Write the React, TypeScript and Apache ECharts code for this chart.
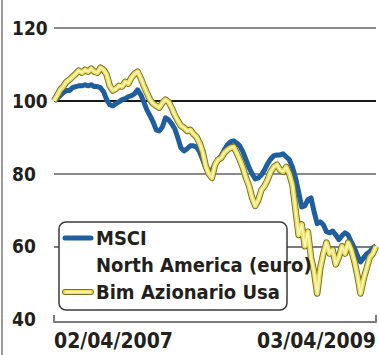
import React, { useEffect, useRef } from "react";
import * as echarts from "echarts";

const seriesNames = ["MSCI North America (euro)", "Bim Azionario Usa"];
const legendLines = ["MSCI", "North America (euro)", "Bim Azionario Usa"];
const tickLabels = ["02/04/2007", "03/04/2009"];
const yTicks = [40, 60, 80, 100, 120];

const msci = [
  100, 100.6, 101.4, 102.2, 102.8, 102.8, 103.6, 103.9, 104.1, 104.1,
  104.4, 104.1, 104.4, 103.9, 103.9, 103.6, 102.5, 100.3, 98.9, 98.6,
  99.2, 99.7, 100.3, 100.6, 101.1, 101.4, 101.9, 103.0, 101.7, 99.7,
  97.5, 95.9, 94.2, 92.0, 91.7, 92.8, 95.3, 94.8, 93.7, 92.3,
  89.8, 87.0, 86.2, 86.8, 87.6, 87.6, 87.3, 86.0, 83.8, 81.6,
  80.5, 81.0, 82.4, 83.8, 84.9, 86.5, 87.9, 88.7, 89.0, 88.4,
  87.6, 86.0, 83.8, 81.6, 79.9, 78.5, 78.8, 79.6, 81.0, 82.7,
  84.0, 84.9, 85.1, 85.1, 85.4, 84.6, 83.8, 81.8, 78.8, 75.0,
  70.8, 71.1, 72.8, 73.3, 69.5, 66.2, 66.7, 65.9, 64.0, 63.7,
  64.2, 63.1, 61.8, 62.9, 63.7, 63.1, 61.2, 59.6, 57.4, 55.7,
  56.8, 57.9, 58.5, 59.6, 60.1,
];

const bim = [
  100, 101.4, 103.0, 103.9, 105.2, 105.8, 106.6, 107.4, 108.3, 107.7,
  108.5, 108.0, 108.8, 108.0, 107.7, 109.1, 108.5, 107.2, 104.1, 102.8,
  103.3, 104.1, 103.9, 105.2, 104.7, 106.3, 107.4, 108.0, 106.3, 104.1,
  102.2, 100.3, 99.2, 98.6, 98.1, 99.4, 100.3, 99.7, 98.1, 96.1,
  94.5, 93.1, 92.6, 91.7, 92.0, 90.9, 90.1, 88.4, 86.0, 82.1,
  79.9, 78.8, 82.4, 83.8, 84.3, 85.7, 86.5, 87.1, 87.3, 85.7,
  83.8, 81.6, 78.8, 76.6, 73.3, 71.1, 72.8, 75.5, 76.6, 78.3,
  80.5, 81.8, 82.4, 81.0, 80.5, 81.8, 79.9, 76.9, 70.0, 63.1,
  66.0, 60.0, 64.0, 57.0, 53.0, 47.0, 54.0, 58.0, 61.0, 58.0,
  59.0, 55.0, 57.0, 60.0, 58.0, 61.0, 59.0, 56.0, 52.0, 47.0,
  51.0, 54.0, 57.0, 58.0, 60.0,
];

function pad(n: number) {
  return n < 10 ? "0" + n : "" + n;
}
const startDate = new Date(2007, 3, 2);
const categories = msci.map((_, i) => {
  if (i === msci.length - 1) return tickLabels[1];
  const d = new Date(startDate.getTime() + i * 7 * 86400000);
  return pad(d.getDate()) + "/" + pad(d.getMonth() + 1) + "/" + d.getFullYear();
});

const FONT = "'DejaVu Sans Condensed', 'Liberation Sans Narrow', sans-serif";
const TEXT = "#231f1c";
const BLUE = "#1f5f9f";

export default function App() {
  const ref = useRef<HTMLDivElement>(null);
  useEffect(() => {
    if (!ref.current) return;
    const chart = echarts.init(ref.current, undefined, { renderer: "svg" });
    const last = categories.length - 1;
    const showEnds = (i: number) => i === 0 || i === last;
    const lineBase = {
      type: "line" as const,
      showSymbol: false,
      symbol: "none",
      smooth: false,
      silent: true,
    };
    chart.setOption({
      animation: false,
      backgroundColor: "#ffffff",
      grid: { left: 54, right: 2, top: 28, bottom: 36 },
      xAxis: {
        type: "category",
        data: categories,
        boundaryGap: false,
        offset: 3,
        axisLine: { show: true, lineStyle: { color: "#7a7a7a", width: 2 } },
        axisTick: {
          show: true,
          inside: true,
          length: 7,
          interval: (i: number) => showEnds(i),
          lineStyle: { color: "#7a7a7a", width: 2 },
        },
        axisLabel: {
          interval: (i: number) => showEnds(i),
          formatter: (_v: string, i: number) => (i === 0 ? tickLabels[0] : tickLabels[1]),
          alignMinLabel: "left",
          alignMaxLabel: "right",
          margin: 8,
          color: TEXT,
          fontFamily: FONT,
          fontWeight: "bold",
          fontSize: 21,
        },
        splitLine: { show: false },
      },
      yAxis: {
        type: "value",
        min: yTicks[0],
        max: yTicks[yTicks.length - 1],
        interval: 20,
        axisLine: { show: false },
        axisTick: { show: false },
        axisLabel: {
          align: "left",
          margin: 42,
          color: TEXT,
          fontFamily: FONT,
          fontWeight: "bold",
          fontSize: 19,
        },
        splitLine: {
          show: true,
          lineStyle: {
            color: ["rgba(0,0,0,0)", "#7d7d7d", "#8a8a8a", "#1a1a1a", "#8a8a8a"],
            width: 2,
          },
        },
      },
      series: [
        {
          ...lineBase,
          name: seriesNames[0],
          data: msci,
          lineStyle: { color: BLUE, width: 5, join: "round" },
          z: 2,
        },
        {
          ...lineBase,
          name: seriesNames[1] + " outline",
          data: bim,
          lineStyle: { color: "#7a7028", width: 6.5, join: "round" },
          z: 3,
        },
        {
          ...lineBase,
          name: seriesNames[1],
          data: bim,
          lineStyle: { color: "#efe05a", width: 4.6, join: "round" },
          z: 4,
        },
        {
          ...lineBase,
          name: seriesNames[1] + " center",
          data: bim,
          lineStyle: { color: "#fbf6c4", width: 1.6, join: "round" },
          z: 5,
        },
      ],
      graphic: [
        {
          type: "line",
          shape: { x1: 2, y1: 0, x2: 2, y2: 355 },
          style: { stroke: "#9a9a9a", lineWidth: 2 },
          z: 50,
        },
        {
          type: "group",
          z: 100,
          children: [
            {
              type: "rect",
              shape: { x: 59, y: 222, width: 228, height: 88, r: 7 },
              style: { fill: "#ffffff", stroke: "#3a3a3a", lineWidth: 1.5 },
              z: 100,
            },
            {
              type: "line",
              shape: { x1: 65, y1: 238, x2: 91, y2: 238 },
              style: { stroke: BLUE, lineWidth: 5, lineCap: "round" },
              z: 101,
            },
            {
              type: "line",
              shape: { x1: 65, y1: 292, x2: 91, y2: 292 },
              style: { stroke: "#7a7028", lineWidth: 6, lineCap: "round" },
              z: 101,
            },
            {
              type: "line",
              shape: { x1: 65, y1: 292, x2: 91, y2: 292 },
              style: { stroke: "#efe05a", lineWidth: 4, lineCap: "round" },
              z: 102,
            },
            {
              type: "line",
              shape: { x1: 66, y1: 292, x2: 90, y2: 292 },
              style: { stroke: "#fbf6c4", lineWidth: 1.4, lineCap: "round" },
              z: 103,
            },
            ...legendLines.map((t, k) => ({
              type: "text",
              x: 96,
              y: 238 + k * 27,
              z: 104,
              style: {
                text: t,
                fill: TEXT,
                fontFamily: FONT,
                fontWeight: "bold",
                fontSize: 20,
                align: "left",
                verticalAlign: "middle",
              },
            })),
          ],
        },
      ],
    });
    return () => chart.dispose();
  }, []);
  return (
    <div
      ref={ref}
      style={{ position: "fixed", left: 0, top: 0, width: 379, height: 355 }}
    />
  );
}
